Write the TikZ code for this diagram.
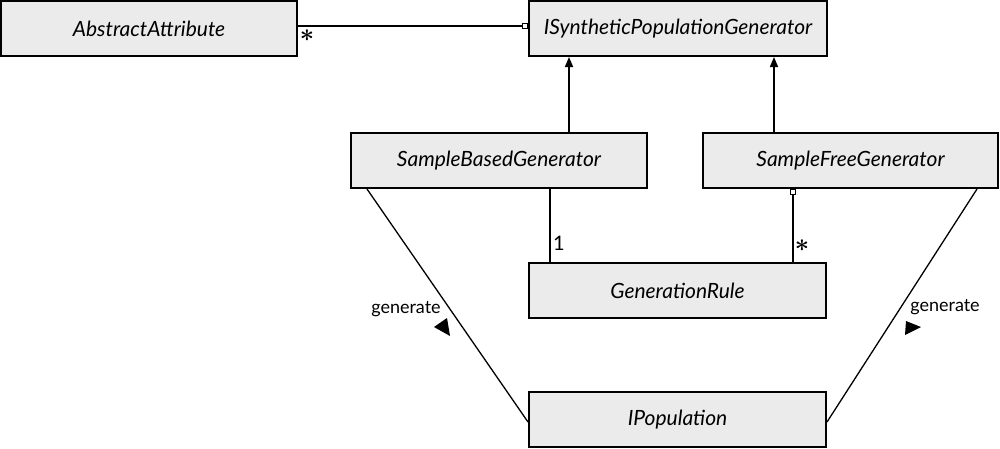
\documentclass[tikz,border=0pt]{standalone}
\usepackage{fontspec}
\setmainfont{Lato}
\usetikzlibrary{arrows.meta}
\definecolor{boxgray}{RGB}{235,235,235}
\begin{document}
\begin{tikzpicture}[x=1pt,y=-1pt,
  cls/.style={draw, line width=2pt, fill=boxgray, minimum height=55pt, inner sep=0pt,
    font=\fontsize{21}{24}\selectfont\itshape, text=black},
  conn/.style={line width=1.6pt},
  assoc/.style={line width=1.3pt},
  ownend/.style={-{Square[open,length=6pt,width=6pt,line width=1.2pt]}},
  ownstart/.style={{Square[open,length=6pt,width=6pt,line width=1.2pt]}-},
  inherit/.style={-{Triangle[length=10pt,width=8pt]}},
  mult/.style={font=\fontsize{20}{22}\selectfont, inner sep=0pt},
  star/.style={font=\fontsize{24}{26}\selectfont\boldmath, inner sep=0pt},
  lbl/.style={font=\fontsize{18}{20}\selectfont, inner sep=0pt}]
\useasboundingbox (0,0) rectangle (1000,448);

\node[cls, minimum width=296pt] (aa)  at (149,28.5)    {AbstractAttribute};
\node[cls, minimum width=298pt] (isg) at (678,28.5)    {ISyntheticPopulationGenerator};
\node[cls, minimum width=296pt] (sb)  at (499,160.5)   {SampleBasedGenerator};
\node[cls, minimum width=295pt] (sf)  at (850.5,160.5) {SampleFreeGenerator};
\node[cls, minimum width=297pt] (gr)  at (677.5,290.5) {GenerationRule};
\node[cls, minimum width=297pt] (ip)  at (677.5,419.5) {IPopulation};

% AbstractAttribute -- ISyntheticPopulationGenerator
\draw[conn, ownend] ([yshift=2.5pt]aa.east) -- ([yshift=2.5pt]aa.east -| isg.west);
\node[star] (m1) at (307,36) {$\ast$};

% inheritance
\draw[conn, inherit] ([xshift=70pt]sb.north) -- ([xshift=70pt]sb.north |- isg.south);
\draw[conn, inherit] ([xshift=-76.5pt]sf.north) -- ([xshift=-76.5pt]sf.north |- isg.south);

% rules
\draw[conn] ([xshift=51pt]sb.south) -- ([xshift=51pt]sb.south |- gr.north);
\node[mult] (m2) at (559,243) {1};
\draw[conn, ownstart] ([xshift=-57.5pt]sf.south) -- ([xshift=-57.5pt]sf.south |- gr.north);
\node[star] (m3) at (802,246) {$\ast$};

% generate associations
\draw[assoc] ([xshift=17pt]sb.south west) -- ([yshift=-2.5pt]ip.west);
\draw[assoc] ([xshift=-22pt]sf.south east) -- ([yshift=-2.5pt]ip.east);
\node[lbl] (g1) at (406,309) {generate};
\node[lbl] (g2) at (945,307) {generate};
\fill (434,327) -- (447,318) -- (450,336) -- cycle;
\fill (906,321) -- (921,327) -- (905,335) -- cycle;
\end{tikzpicture}
\end{document}
